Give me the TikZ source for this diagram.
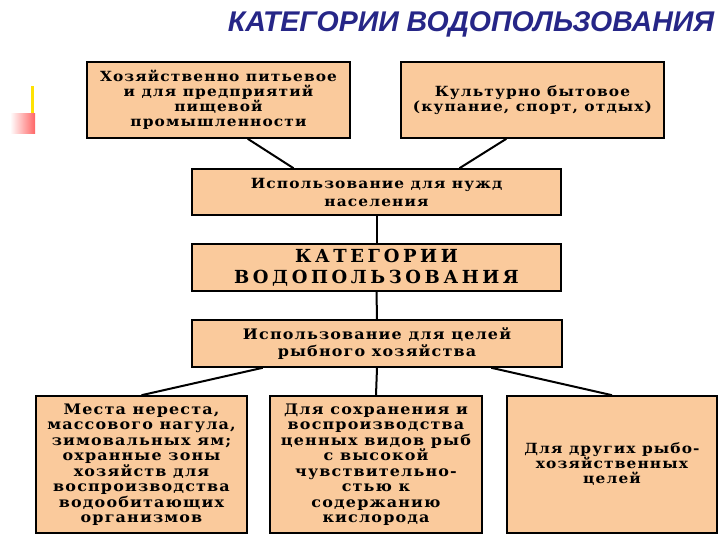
\documentclass[tikz,border=0pt]{standalone}
\usepackage{fontspec}
\setmainfont{Liberation Serif}
\newfontfamily\boxfont[LetterSpace=8, FakeStretch=1.1]{DejaVu Serif}
\newfontfamily\katfont[LetterSpace=20]{DejaVu Serif}
\newfontfamily\titlefont{Liberation Sans}
\usetikzlibrary{positioning}
\definecolor{peach}{RGB}{250,202,156}
\definecolor{titleblue}{RGB}{38,38,135}
\tikzset{
    catbox/.style={rectangle, draw=black, line width=1.6pt, fill=peach, align=center, inner sep=2pt, font=\boxfont\bfseries\fontsize{14}{15}\selectfont},
    link/.style={line width=2pt}
}
\begin{document}
\begin{tikzpicture}[x=1pt, y=-1pt]
    \useasboundingbox (0,0) rectangle (720,540);
    % title and side marks
    \node (title) [font=\titlefont\bfseries\itshape\fontsize{28.5}{32}\selectfont, text=titleblue, anchor=base] at (471,32) {КАТЕГОРИИ ВОДОПОЛЬЗОВАНИЯ};
    \fill[yellow!85!orange] (31,86) rectangle (34,116);
    \shade[left color=white, right color=red!60] (10,114) rectangle (35,134);

    \node (hpit) [catbox, minimum width=263pt, minimum height=76pt] at (218.5,100) {Хозяйственно питьевое\\и для предприятий\\пищевой\\промышленности};
    \node (kult) [catbox, minimum width=263pt, minimum height=76pt] at (532.5,100) {Культурно бытовое\\(купание, спорт, отдых)};
    \node (nas) [catbox, minimum width=369pt, minimum height=46pt, font=\boxfont\bfseries\fontsize{14}{18}\selectfont] at (376.5,192) {Использование для нужд\\населения};
    \node (kat) [catbox, minimum width=369pt, minimum height=47pt, font=\katfont\bfseries\fontsize{18}{21}\selectfont] at (376.5,267.5) {КАТЕГОРИИ\\ВОДОПОЛЬЗОВАНИЯ};
    \node (ryb) [catbox, minimum width=370pt, minimum height=47pt, font=\boxfont\bfseries\fontsize{14.5}{17}\selectfont] at (377,343.5) {Использование для целей\\рыбного хозяйства};
    \node (nerest) [catbox, minimum width=211pt, minimum height=137pt, font=\boxfont\bfseries\fontsize{14.5}{15.5}\selectfont] at (141.5,464.5) {Места нереста,\\массового нагула,\\зимовальных ям;\\охранные зоны\\хозяйств для\\воспроизводства\\водообитающих\\организмов};
    \node (cen) [catbox, minimum width=212pt, minimum height=137pt, font=\boxfont\bfseries\fontsize{14.5}{15.5}\selectfont] at (376,464.5) {Для сохранения и\\воспроизводства\\ценных видов рыб\\с высокой\\чувствительно-\\стью к\\содержанию\\кислорода};
    \node (drug) [catbox, minimum width=210pt, minimum height=137pt] at (612,464.5) {Для других рыбо-\\хозяйственных\\целей};

    \draw [link] (hpit.-53) -- (nas.164);
    \draw [link] (kult.-124) -- (nas.16);
    \draw [link] (nas.south) -- (kat.north);
    \draw [link] (kat.south) -- (ryb.north);
    \draw [link] (ryb.-168) -- (nerest.north);
    \draw [link] (ryb.south) -- (cen.north);
    \draw [link] (ryb.-12) -- (drug.north);
\end{tikzpicture}
\end{document}
